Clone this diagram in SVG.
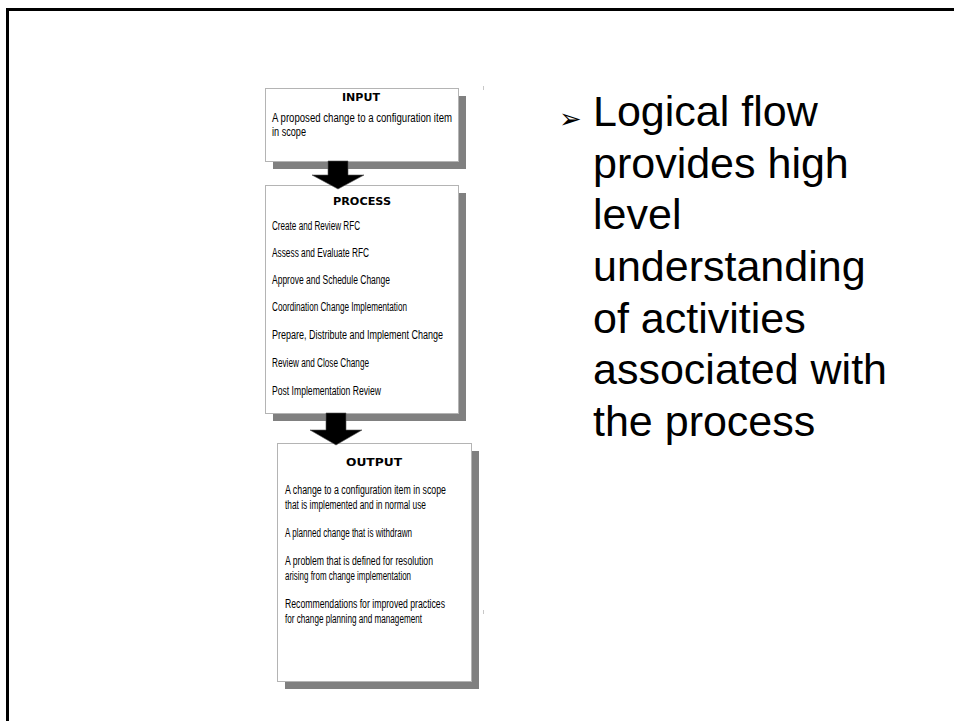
<svg xmlns="http://www.w3.org/2000/svg" width="954" height="721" viewBox="0 0 954 721">
<style>
.frame{fill:none;stroke:#000;stroke-width:3}
.box{fill:#fff;stroke:#b4b4b4;stroke-width:1}
.shadow{fill:#808080}
.arrow{fill:#000;stroke:#555;stroke-width:0.6}
.ttl{font-family:"DejaVu Sans",Verdana,sans-serif;font-size:10.5px;font-weight:bold;fill:#000;text-anchor:middle}
.t{font-family:"Liberation Sans",Arial,sans-serif;font-size:12px;fill:#000}
.big{font-family:"Liberation Sans",Arial,sans-serif;font-size:43px;fill:#000}
.bul{font-family:"DejaVu Sans",sans-serif;font-size:27px;fill:#000}
</style>
<rect width="954" height="721" fill="#fff"/>
<path class="frame" d="M7.5 721V9.5H954"/>
<rect x="483" y="86" width="1" height="4" fill="#c8c8c8"/>
<rect x="483" y="610" width="1" height="4" fill="#c8c8c8"/>

<g id="input">
<rect class="shadow" x="273" y="96" width="193" height="73"/>
<rect class="box" x="265.5" y="88.5" width="193" height="73"/>
<text class="ttl" x="361" y="101" textLength="38" lengthAdjust="spacingAndGlyphs">INPUT</text>
<text class="t" x="272" y="122" textLength="180" lengthAdjust="spacingAndGlyphs">A proposed change to a configuration item</text>
<text class="t" x="272" y="136" textLength="34" lengthAdjust="spacingAndGlyphs">in scope</text>
</g>

<g id="process">
<rect class="shadow" x="273" y="193" width="193" height="228"/>
<rect class="box" x="265.5" y="185.5" width="193" height="228"/>
<text class="ttl" x="362" y="205" textLength="58" lengthAdjust="spacingAndGlyphs">PROCESS</text>
<text class="t" x="272" y="230" textLength="88" lengthAdjust="spacingAndGlyphs">Create and Review RFC</text>
<text class="t" x="272" y="257" textLength="97" lengthAdjust="spacingAndGlyphs">Assess and Evaluate RFC</text>
<text class="t" x="272" y="284" textLength="118" lengthAdjust="spacingAndGlyphs">Approve and Schedule Change</text>
<text class="t" x="272" y="311" textLength="135" lengthAdjust="spacingAndGlyphs">Coordination Change Implementation</text>
<text class="t" x="272" y="339" textLength="171" lengthAdjust="spacingAndGlyphs">Prepare, Distribute and Implement Change</text>
<text class="t" x="272" y="367" textLength="97" lengthAdjust="spacingAndGlyphs">Review and Close Change</text>
<text class="t" x="272" y="395" textLength="109" lengthAdjust="spacingAndGlyphs">Post Implementation Review</text>
</g>

<g id="output">
<rect class="shadow" x="285" y="451" width="194" height="238"/>
<rect class="box" x="277.5" y="443.5" width="194" height="238"/>
<text class="ttl" x="374" y="466" textLength="56" lengthAdjust="spacingAndGlyphs">OUTPUT</text>
<text class="t" x="285" y="494" textLength="161" lengthAdjust="spacingAndGlyphs">A change to a configuration item in scope</text>
<text class="t" x="285" y="509" textLength="141" lengthAdjust="spacingAndGlyphs">that is implemented and in normal use</text>
<text class="t" x="285" y="537" textLength="127" lengthAdjust="spacingAndGlyphs">A planned change that is withdrawn</text>
<text class="t" x="285" y="565" textLength="148" lengthAdjust="spacingAndGlyphs">A problem that is defined for resolution</text>
<text class="t" x="285" y="580" textLength="126" lengthAdjust="spacingAndGlyphs">arising from change implementation</text>
<text class="t" x="285" y="608" textLength="160" lengthAdjust="spacingAndGlyphs">Recommendations for improved practices</text>
<text class="t" x="285" y="623" textLength="137" lengthAdjust="spacingAndGlyphs">for change planning and management</text>
</g>

<g id="connectors">
<path class="arrow" d="M328 161H348V175H364L338 189L312 175H328Z"/>
<path class="arrow" d="M326 413H346V430H362L336 445L310 430H326Z"/>
</g>

<g id="note">
<text class="bul" x="559" y="128">➢</text>
<text class="big" x="593" y="126">Logical flow</text>
<text class="big" x="593" y="178">provides high</text>
<text class="big" x="593" y="229">level</text>
<text class="big" x="593" y="281">understanding</text>
<text class="big" x="593" y="333">of activities</text>
<text class="big" x="593" y="384">associated with</text>
<text class="big" x="593" y="436">the process</text>
</g>
</svg>
